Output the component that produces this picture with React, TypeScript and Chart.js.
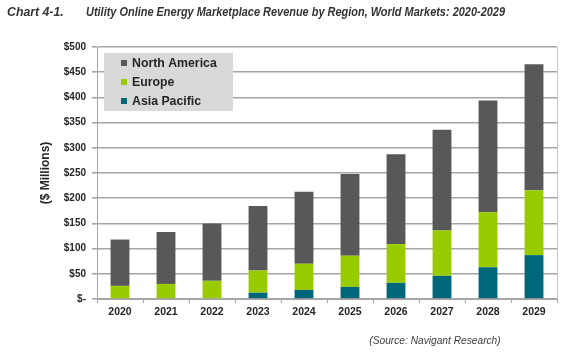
import React, { useEffect, useRef } from "react";
import { Chart, registerables } from "chart.js";

Chart.register(...registerables);

const categories = ["2020", "2021", "2022", "2023", "2024", "2025", "2026", "2027", "2028", "2029"];
const asiaPacific = [0, 0, 0, 12.5, 18, 24, 32, 46, 63, 87];
const europe = [26, 30, 36, 44, 52, 62, 77, 90, 109, 129];
const northAmerica = [92, 103, 114, 128, 143, 162, 178, 200, 222, 250];
const yTicks = [0, 50, 100, 150, 200, 250, 300, 350, 400, 450, 500];

const FONT = "'Liberation Sans', Arial, sans-serif";
const TEXT = "#262626";
const TITLE = "Utility Online Energy Marketplace Revenue by Region, World Markets: 2020-2029";

const overlayPlugin = {
  id: "overlay",
  afterDraw(chart: any) {
    const ctx = chart.ctx;
    const area = chart.chartArea;
    ctx.save();
    // right border of plot area
    ctx.strokeStyle = "#c8c8c8";
    ctx.lineWidth = 1;
    ctx.beginPath();
    ctx.moveTo(area.right + 0.5, area.top);
    ctx.lineTo(area.right + 0.5, area.bottom);
    ctx.stroke();

    // title
    ctx.fillStyle = "#333333";
    ctx.textBaseline = "middle";
    ctx.textAlign = "left";
    ctx.font = `italic bold 12.3px ${FONT}`;
    ctx.fillText("Chart 4-1.", 7, 13);
    ctx.font = `italic bold 12.3px ${FONT}`;
    const w = ctx.measureText(TITLE).width;
    const sx = 419 / w;
    ctx.save();
    ctx.translate(86, 13);
    ctx.scale(sx, 1);
    ctx.fillText(TITLE, 0, 0);
    ctx.restore();

    // source
    ctx.fillStyle = "#404040";
    ctx.font = `italic 10.2px ${FONT}`;
    ctx.textAlign = "center";
    ctx.fillText("(Source: Navigant Research)", 435, 341);

    // legend box
    ctx.fillStyle = "#d9d9d9";
    ctx.fillRect(104, 53, 129, 58);
    const entries = [
      { label: chart.data.datasets[2].label, color: chart.data.datasets[2].backgroundColor },
      { label: chart.data.datasets[1].label, color: chart.data.datasets[1].backgroundColor },
      { label: chart.data.datasets[0].label, color: chart.data.datasets[0].backgroundColor },
    ];
    ctx.font = `bold 12.3px ${FONT}`;
    ctx.textAlign = "left";
    entries.forEach((e, i) => {
      const cy = 63 + i * 19;
      ctx.fillStyle = e.color;
      ctx.fillRect(121, cy - 3, 6, 6);
      ctx.fillStyle = TEXT;
      ctx.fillText(e.label, 132, cy + 0.5);
    });
    ctx.restore();
  },
};

export default function App() {
  const ref = useRef<HTMLCanvasElement | null>(null);
  useEffect(() => {
    document.body.style.margin = "0";
    const canvas = ref.current!;
    const chart = new Chart(canvas, {
      type: "bar",
      data: {
        labels: categories,
        datasets: [
          { label: "Asia Pacific", data: asiaPacific, backgroundColor: "#00667a" },
          { label: "Europe", data: europe, backgroundColor: "#99cc00" },
          { label: "North America", data: northAmerica, backgroundColor: "#58585a" },
        ],
      },
      options: {
        animation: false,
        responsive: false,
        maintainAspectRatio: false,
        layout: { padding: { left: 0, top: 47, right: 25, bottom: 0 } },
        plugins: { legend: { display: false }, tooltip: { enabled: false }, title: { display: false } },
        datasets: { bar: { barPercentage: 0.82, categoryPercentage: 0.5 } },
        scales: {
          x: {
            stacked: true,
            afterFit: (s: any) => { s.height = 59; },
            grid: { display: true, drawOnChartArea: false, drawTicks: true, tickLength: 4, color: "#a6a6a6", offset: true },
            border: { display: true, color: "#a6a6a6", width: 1 },
            ticks: { color: TEXT, font: { family: FONT, size: 10.5, weight: "bold" }, padding: 3 },
          },
          y: {
            stacked: true,
            min: 0,
            max: 500,
            afterFit: (s: any) => { s.width = 97; },
            afterBuildTicks: (s: any) => { s.ticks = yTicks.map((v) => ({ value: v })); },
            grid: { color: "#a6a6a6", lineWidth: 1.6, tickLength: 5 },
            border: { display: true, color: "#a6a6a6", width: 1 },
            ticks: {
              color: TEXT,
              font: { family: FONT, size: 10, weight: "bold" },
              padding: 6,
              callback: (v: any) => (Number(v) === 0 ? "$-" : "$" + v),
            },
            title: {
              display: true,
              text: "($ Millions)",
              color: TEXT,
              font: { family: FONT, size: 12, weight: "bold" },
              padding: { top: 38, bottom: 0 },
            },
          },
        },
      },
      plugins: [overlayPlugin],
    } as any);
    return () => chart.destroy();
  }, []);
  return <canvas ref={ref} width={582} height={358} style={{ display: "block", width: 582, height: 358 }} />;
}
